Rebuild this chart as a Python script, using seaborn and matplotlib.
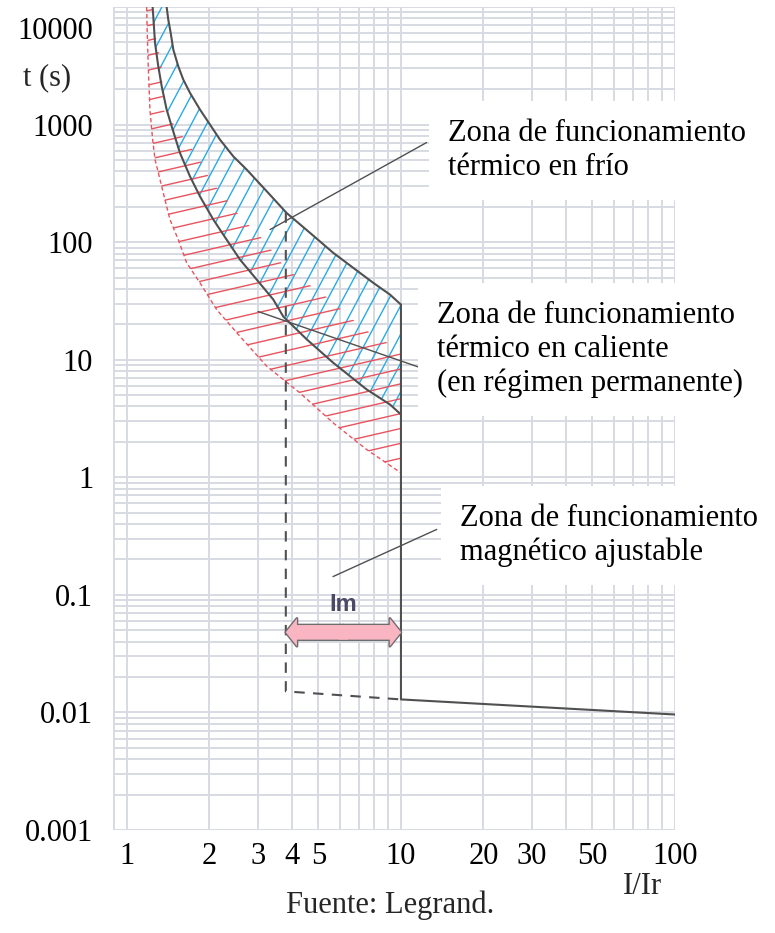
import numpy as np
import pandas as pd
import matplotlib
matplotlib.use("Agg")
import matplotlib.pyplot as plt
import seaborn as sns
from matplotlib.collections import LineCollection
from matplotlib.patches import FancyArrowPatch
from matplotlib.ticker import LogLocator, NullFormatter
from matplotlib.transforms import ScaledTranslation

# ---------------- data ----------------
cold_upper_x = [1.396, 1.415, 1.444, 1.476, 1.539, 1.605, 1.698, 1.847, 2.009, 2.185,
                2.443, 2.735, 3.236, 3.826, 4.655, 5.66, 6.70, 7.92, 9.12, 10.0]
cold_upper_y = [10000, 7820, 6030, 4345, 3135, 2415, 1862, 1342, 1000, 745,
                537, 414, 271, 177, 120, 81.1, 60.4, 45.1, 35.8, 29.4]

cold_lower_x = [1.241, 1.266, 1.301, 1.339, 1.396, 1.456, 1.561, 1.698, 1.847, 2.065,
                2.311, 2.585, 2.974, 3.42, 3.72, 4.53, 5.66, 7.50, 9.12, 10.0]
cold_lower_y = [10000, 4955, 3135, 2120, 1342, 967, 574, 363, 245, 156,
                105, 71.1, 48.1, 32.5, 23.3, 14.9, 9.42, 5.58, 4.16, 3.42]

hot_lower_x = [1.180, 1.186, 1.196, 1.213, 1.241, 1.266, 1.320, 1.376, 1.435, 1.539,
               1.652, 1.847, 2.125, 2.585, 3.236, 4.28, 5.66, 7.50, 10.0]
hot_lower_y = [10000, 6030, 3135, 1342, 745, 504, 341, 230, 156, 105,
               66.7, 45.1, 26.7, 15.8, 8.81, 5.22, 2.90, 1.72, 1.09]

hot_upper_x = [1.24, 1.266, 1.339, 1.357, 1.561, 1.847, 2.009, 2.311, 2.585, 3.145,
               3.826, 4.53, 5.51, 6.16, 6.89, 8.15, 9.38, 10.0]
hot_upper_y = [10000, 6050, 3135, 1342, 855, 504, 341, 230, 166, 105,
               58.5, 45.1, 32.5, 25.8, 20.6, 15.4, 13.2, 12.5]

mag_dashed_x = [3.8, 3.8, 10.0]
mag_dashed_y = [179, 0.0151, 0.0129]
mag_solid_x = [10.0, 10.0, 100.0]
mag_solid_y = [29.4, 0.0129, 0.0096]

im_range = [3.8, 10.0]
im_level = 0.048

xtick_vals = [1, 2, 3, 4, 5, 10, 20, 30, 50, 100]
xtick_labels = ["1", "2", "3", "4", "5", "10", "20", "30", "50", "100"]
ytick_vals = [0.001, 0.01, 0.1, 1, 10, 100, 1000, 10000]
ytick_labels = ["0.001", "0.01", "0.1", "1", "10", "100", "1000", "10000"]

zone_texts = ["Zona de funcionamiento\ntérmico en frío",
              "Zona de funcionamiento\ntérmico en caliente\n(en régimen permanente)",
              "Zona de funcionamiento\nmagnético ajustable"]
zone_text_pos = [(14.8, 600), (13.5, 12.2), (16.4, 0.32)]
leader_x = [[3.33, 12.4], [3.01, 11.7], [5.65, 13.5]]
leader_y = [[128, 703], [25.7, 8.6], [0.143, 0.36]]

# ---------------- style ----------------
sns.set_theme(style="white")
plt.rcParams["font.family"] = ["Liberation Serif", "DejaVu Serif"]

GRID = "#d8dae3"
DARK = "#505050"
BLUE = "#2aaae4"
RED = "#e8545e"

fig = plt.figure(figsize=(7.75, 9.33), dpi=100)
ax = fig.add_axes([0.1454, 0.1104, 0.7255, 0.8821])
ax.set_xscale("log")
ax.set_yscale("log")

for s in ax.spines.values():
    s.set_visible(False)

W = ax.get_position().width * fig.get_figwidth() * fig.dpi
H = ax.get_position().height * fig.get_figheight() * fig.dpi


def hatch_polygon(xs, ys, angle, spacing, color, lw, z):
    poly = ax.fill(xs, ys, facecolor="none", edgecolor="none", zorder=z)[0]
    th = np.deg2rad(angle)
    d = np.array([np.cos(th), np.sin(th)])
    n = np.array([-np.sin(th), np.cos(th)])
    L = np.hypot(W, H) * 1.2
    segs = []
    for c in np.arange(-L, L, spacing):
        p0 = c * n - L * d
        p1 = c * n + L * d
        segs.append([(p0[0] / W, p0[1] / H), (p1[0] / W, p1[1] / H)])
    lc = LineCollection(segs, colors=color, linewidths=lw,
                        transform=ax.transAxes, zorder=z)
    ax.add_collection(lc, autolim=False)
    lc.set_clip_path(poly)


# blue zone (cold)
hatch_polygon(cold_upper_x + cold_lower_x[::-1], cold_upper_y + cold_lower_y[::-1],
              62, 13.5, BLUE, 1.0, 2)
# red zone (hot)
hatch_polygon(hot_upper_x + hot_lower_x[::-1], hot_upper_y + hot_lower_y[::-1],
              13, 14.5, RED, 1.0, 3)

# curves
df_cu = pd.DataFrame({"x": cold_upper_x, "y": cold_upper_y})
df_cl = pd.DataFrame({"x": cold_lower_x, "y": cold_lower_y})
df_hl = pd.DataFrame({"x": hot_lower_x, "y": hot_lower_y})
sns.lineplot(data=df_hl, x="x", y="y", ax=ax, color=RED, lw=1.0, sort=False,
             estimator=None, zorder=4).lines[-1].set_dashes([3, 2])
sns.lineplot(data=df_cu, x="x", y="y", ax=ax, color=DARK, lw=1.5, sort=False,
             estimator=None, zorder=5)
sns.lineplot(data=df_cl, x="x", y="y", ax=ax, color=DARK, lw=1.5, sort=False,
             estimator=None, zorder=5)
ax.plot(mag_dashed_x, mag_dashed_y, color=DARK, lw=1.5, ls=(0, (5, 4)), zorder=5)
ax.plot(mag_solid_x, mag_solid_y, color=DARK, lw=1.5, zorder=5)

# Im double arrow (two half arrows meeting in the middle)
mid = np.sqrt(im_range[0] * im_range[1])
style = "simple,head_length=0.8,head_width=2.0,tail_width=1.05"
for end in im_range:
    ax.add_patch(FancyArrowPatch((mid, im_level), (end, im_level), arrowstyle=style,
                                 mutation_scale=10, fc="#6e6e6e", ec="#6e6e6e",
                                 lw=2.0, shrinkA=0, shrinkB=0, zorder=6))
overlap = 1.04
for end, start in zip(im_range, [mid * overlap, mid / overlap]):
    ax.add_patch(FancyArrowPatch((start, im_level), (end, im_level), arrowstyle=style,
                                 mutation_scale=10, fc="#f9b6c2", ec="none",
                                 lw=0, shrinkA=0, shrinkB=0, zorder=7))
ax.text(mid, 0.083, "Im", ha="center", va="center", fontsize=17, fontweight="bold",
        family=["Liberation Sans", "DejaVu Sans"], color="#4a4a66", zorder=8)

# leader lines and zone labels
for lx, ly in zip(leader_x, leader_y):
    ax.plot(lx, ly, color=DARK, lw=1.0, zorder=8)
for txt, (tx, ty) in zip(zone_texts, zone_text_pos):
    ax.text(tx, ty, txt, ha="left", va="center", fontsize=22, linespacing=1.2,
            color="black", zorder=10,
            bbox=dict(boxstyle="square,pad=0.6", fc="white", ec="none"))

# axes setup
ax.set_xlim(0.887, 100)
ax.set_ylim(0.001, 10000)
ax.set_xlabel("")
ax.set_ylabel("")
ax.set_xticks(xtick_vals, xtick_labels)
ax.set_yticks(ytick_vals, ytick_labels)
ax.xaxis.set_minor_locator(LogLocator(base=10, subs=np.arange(2, 10), numticks=30))
ax.yaxis.set_minor_locator(LogLocator(base=10, subs=np.arange(2, 10), numticks=30))
ax.xaxis.set_minor_formatter(NullFormatter())
ax.yaxis.set_minor_formatter(NullFormatter())
ax.tick_params(axis="both", which="both", length=0, labelsize=22, colors="black")
ax.tick_params(axis="x", pad=9)
ax.tick_params(axis="y", pad=14)
ax.grid(True, which="both", color=GRID, lw=1.4)
ax.set_axisbelow(True)
for lab in ax.get_yticklabels():
    if lab.get_text() == "10000":
        lab.set_va("top")
        lab.set_transform(lab.get_transform()
                          + ScaledTranslation(0, -0.1, fig.dpi_scale_trans))

# outer labels
fig.text(47 / 775, 1 - 78 / 933, "t (s)", ha="center", va="center", fontsize=22)
fig.text(642 / 775, 1 - 887 / 933, "I/Ir", ha="center", va="center", fontsize=22)
fig.text(390 / 775, 1 - 905 / 933, "Fuente: Legrand.", ha="center", va="center", fontsize=22)

fig.savefig("out.png", dpi=100)
